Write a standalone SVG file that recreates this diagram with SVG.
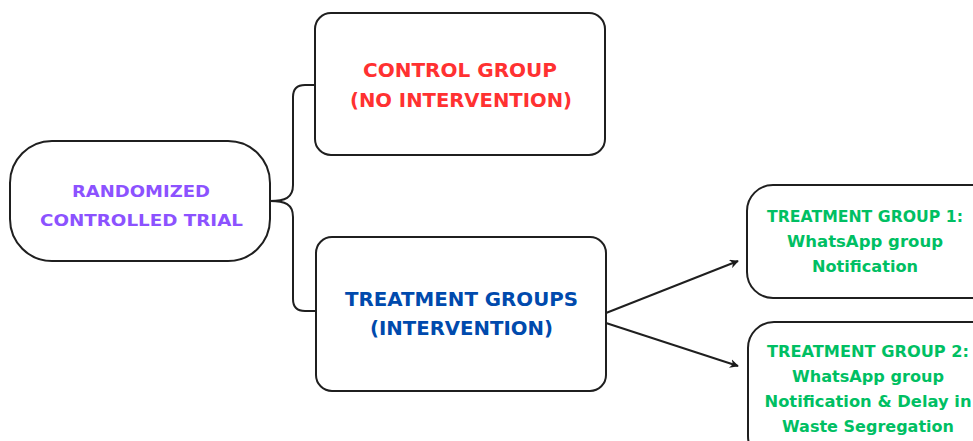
<svg xmlns="http://www.w3.org/2000/svg" width="973" height="441" viewBox="0 0 973 441">
<defs>
<marker id="ah" viewBox="0 0 10 10" refX="9" refY="5" markerWidth="9" markerHeight="9" markerUnits="userSpaceOnUse" orient="auto">
<path d="M0,0 L10,5 L0,10 L3,5 Z" fill="#1a1a1a"/>
</marker>
<style>
.box{fill:#fff;stroke:#1f1f1f;stroke-width:2}
.conn{fill:none;stroke:#1f1f1f;stroke-width:2}
.t{font-family:"DejaVu Sans","Liberation Sans",sans-serif;font-weight:700;text-anchor:middle}
.p{fill:#8c52ff;font-size:16.5px}
.r{fill:#ff3131;font-size:19.5px}
.b{fill:#004aad;font-size:19.5px}
.g{fill:#00bf63;font-size:16.5px}
</style>
</defs>
<rect width="973" height="441" fill="#fff"/>
<g id="connectors">
<path class="conn" d="M270,201 C285,201 293,198 293,185 L293,97 Q293,85 305,85 L315,85"/>
<path class="conn" d="M270,201 C285,201 293,204 293,217 L293,299 Q293,311 305,311 L316,311"/>
<line class="conn" x1="606" y1="313" x2="738" y2="261" marker-end="url(#ah)"/>
<line class="conn" x1="606" y1="323" x2="738" y2="366" marker-end="url(#ah)"/>
</g>
<g id="rct">
<rect class="box" x="10" y="141" width="260" height="120" rx="42"/>
<text class="t p" x="141" y="197" textLength="138" lengthAdjust="spacingAndGlyphs">RANDOMIZED</text>
<text class="t p" x="141.5" y="226" textLength="203" lengthAdjust="spacingAndGlyphs">CONTROLLED TRIAL</text>
</g>
<g id="control">
<rect class="box" x="315" y="13" width="290" height="142" rx="16"/>
<text class="t r" x="460" y="77" textLength="194" lengthAdjust="spacingAndGlyphs">CONTROL GROUP</text>
<text class="t r" x="461" y="107" textLength="222" lengthAdjust="spacingAndGlyphs">(NO INTERVENTION)</text>
</g>
<g id="treatment">
<rect class="box" x="316" y="237" width="290" height="154" rx="16"/>
<text class="t b" x="461.5" y="306" textLength="233" lengthAdjust="spacingAndGlyphs">TREATMENT GROUPS</text>
<text class="t b" x="461.5" y="335" textLength="183" lengthAdjust="spacingAndGlyphs">(INTERVENTION)</text>
</g>
<g id="tg1">
<rect class="box" x="747" y="185" width="250" height="113" rx="26"/>
<text class="t g" x="865" y="222" textLength="196" lengthAdjust="spacingAndGlyphs">TREATMENT GROUP 1:</text>
<text class="t g" x="865" y="247" textLength="156" lengthAdjust="spacingAndGlyphs">WhatsApp group</text>
<text class="t g" x="865" y="272" textLength="106" lengthAdjust="spacingAndGlyphs">Notification</text>
</g>
<g id="tg2">
<rect class="box" x="748" y="322" width="250" height="140" rx="26"/>
<text class="t g" x="868" y="357" textLength="202" lengthAdjust="spacingAndGlyphs">TREATMENT GROUP 2:</text>
<text class="t g" x="868" y="382" textLength="152" lengthAdjust="spacingAndGlyphs">WhatsApp group</text>
<text class="t g" x="868" y="407" textLength="207" lengthAdjust="spacingAndGlyphs">Notification &amp; Delay in</text>
<text class="t g" x="868" y="432" textLength="172" lengthAdjust="spacingAndGlyphs">Waste Segregation</text>
</g>
</svg>
